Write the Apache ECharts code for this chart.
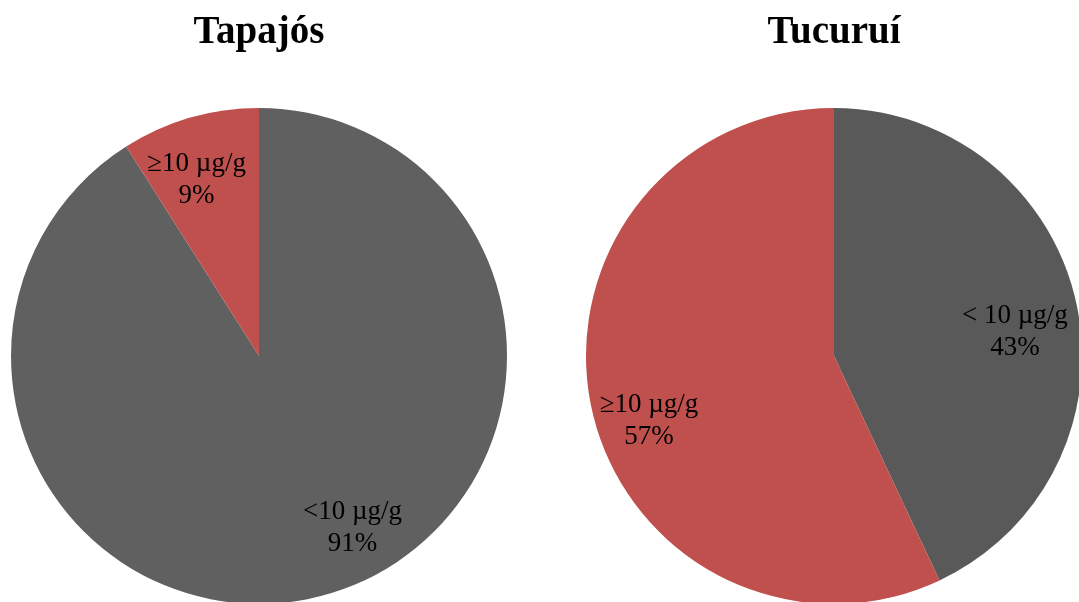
<!DOCTYPE html>
<html>
<head>
<meta charset="utf-8">
<script src="https://cdn.jsdelivr.net/npm/echarts@6/dist/echarts.min.js"></script>
<style>
html,body{margin:0;padding:0;background:#fff;}
#chart{width:1079px;height:602px;}
</style>
</head>
<body>
<div id="chart"></div>
<script>
const titles = ['Tapajós', 'Tucuruí'];
const tapajosCategories = ['<10 µg/g', '≥10 µg/g'];
const tapajosValues = [91, 9];
const tucuruiCategories = ['< 10 µg/g', '≥10 µg/g'];
const tucuruiValues = [43, 57];

const grayLeft = '#606060';
const grayRight = '#595959';
const red = '#c0504d';

// label nudges relative to ECharts' default "inside" position
const tapajosLabelShift = [[58, 50], [-27, -54]];
const tucuruiLabelShift = [[57, 4], [-61, 37]];

const chart = echarts.init(document.getElementById('chart'), null, {renderer: 'canvas'});

function makeData(cats, vals, colors) {
  return cats.map((c, i) => ({name: c, value: vals[i], itemStyle: {color: colors[i]}}));
}

const labelStyle = {
  show: true,
  position: 'inside',
  formatter: '{b}\n{c}%',
  fontFamily: '"Liberation Serif", "Times New Roman", serif',
  fontSize: 27,
  lineHeight: 32,
  color: '#000',
  align: 'center'
};

const titleStyle = {
  fontFamily: '"Liberation Serif", "Times New Roman", serif',
  fontSize: 39,
  fontWeight: 'bold',
  color: '#000'
};

chart.setOption({
  animation: false,
  title: [
    {text: titles[0], left: 259, top: 13, textAlign: 'center', padding: 0, textStyle: titleStyle},
    {text: titles[1], left: 834, top: 13, textAlign: 'center', padding: 0, textStyle: titleStyle}
  ],
  series: [
    {
      type: 'pie',
      center: [259, 356],
      radius: 248,
      startAngle: 90,
      clockwise: true,
      silent: true,
      label: labelStyle,
      labelLine: {show: false},
      labelLayout: function (p) {
        const s = tapajosLabelShift[p.dataIndex];
        return {dx: s[0], dy: s[1]};
      },
      emphasis: {disabled: true},
      data: makeData(tapajosCategories, tapajosValues, [grayLeft, red])
    },
    {
      type: 'pie',
      center: [834, 356],
      radius: 248,
      startAngle: 90,
      clockwise: true,
      silent: true,
      label: labelStyle,
      labelLine: {show: false},
      labelLayout: function (p) {
        const s = tucuruiLabelShift[p.dataIndex];
        return {dx: s[0], dy: s[1]};
      },
      emphasis: {disabled: true},
      data: makeData(tucuruiCategories, tucuruiValues, [grayRight, red])
    }
  ]
});
</script>
</body>
</html>
